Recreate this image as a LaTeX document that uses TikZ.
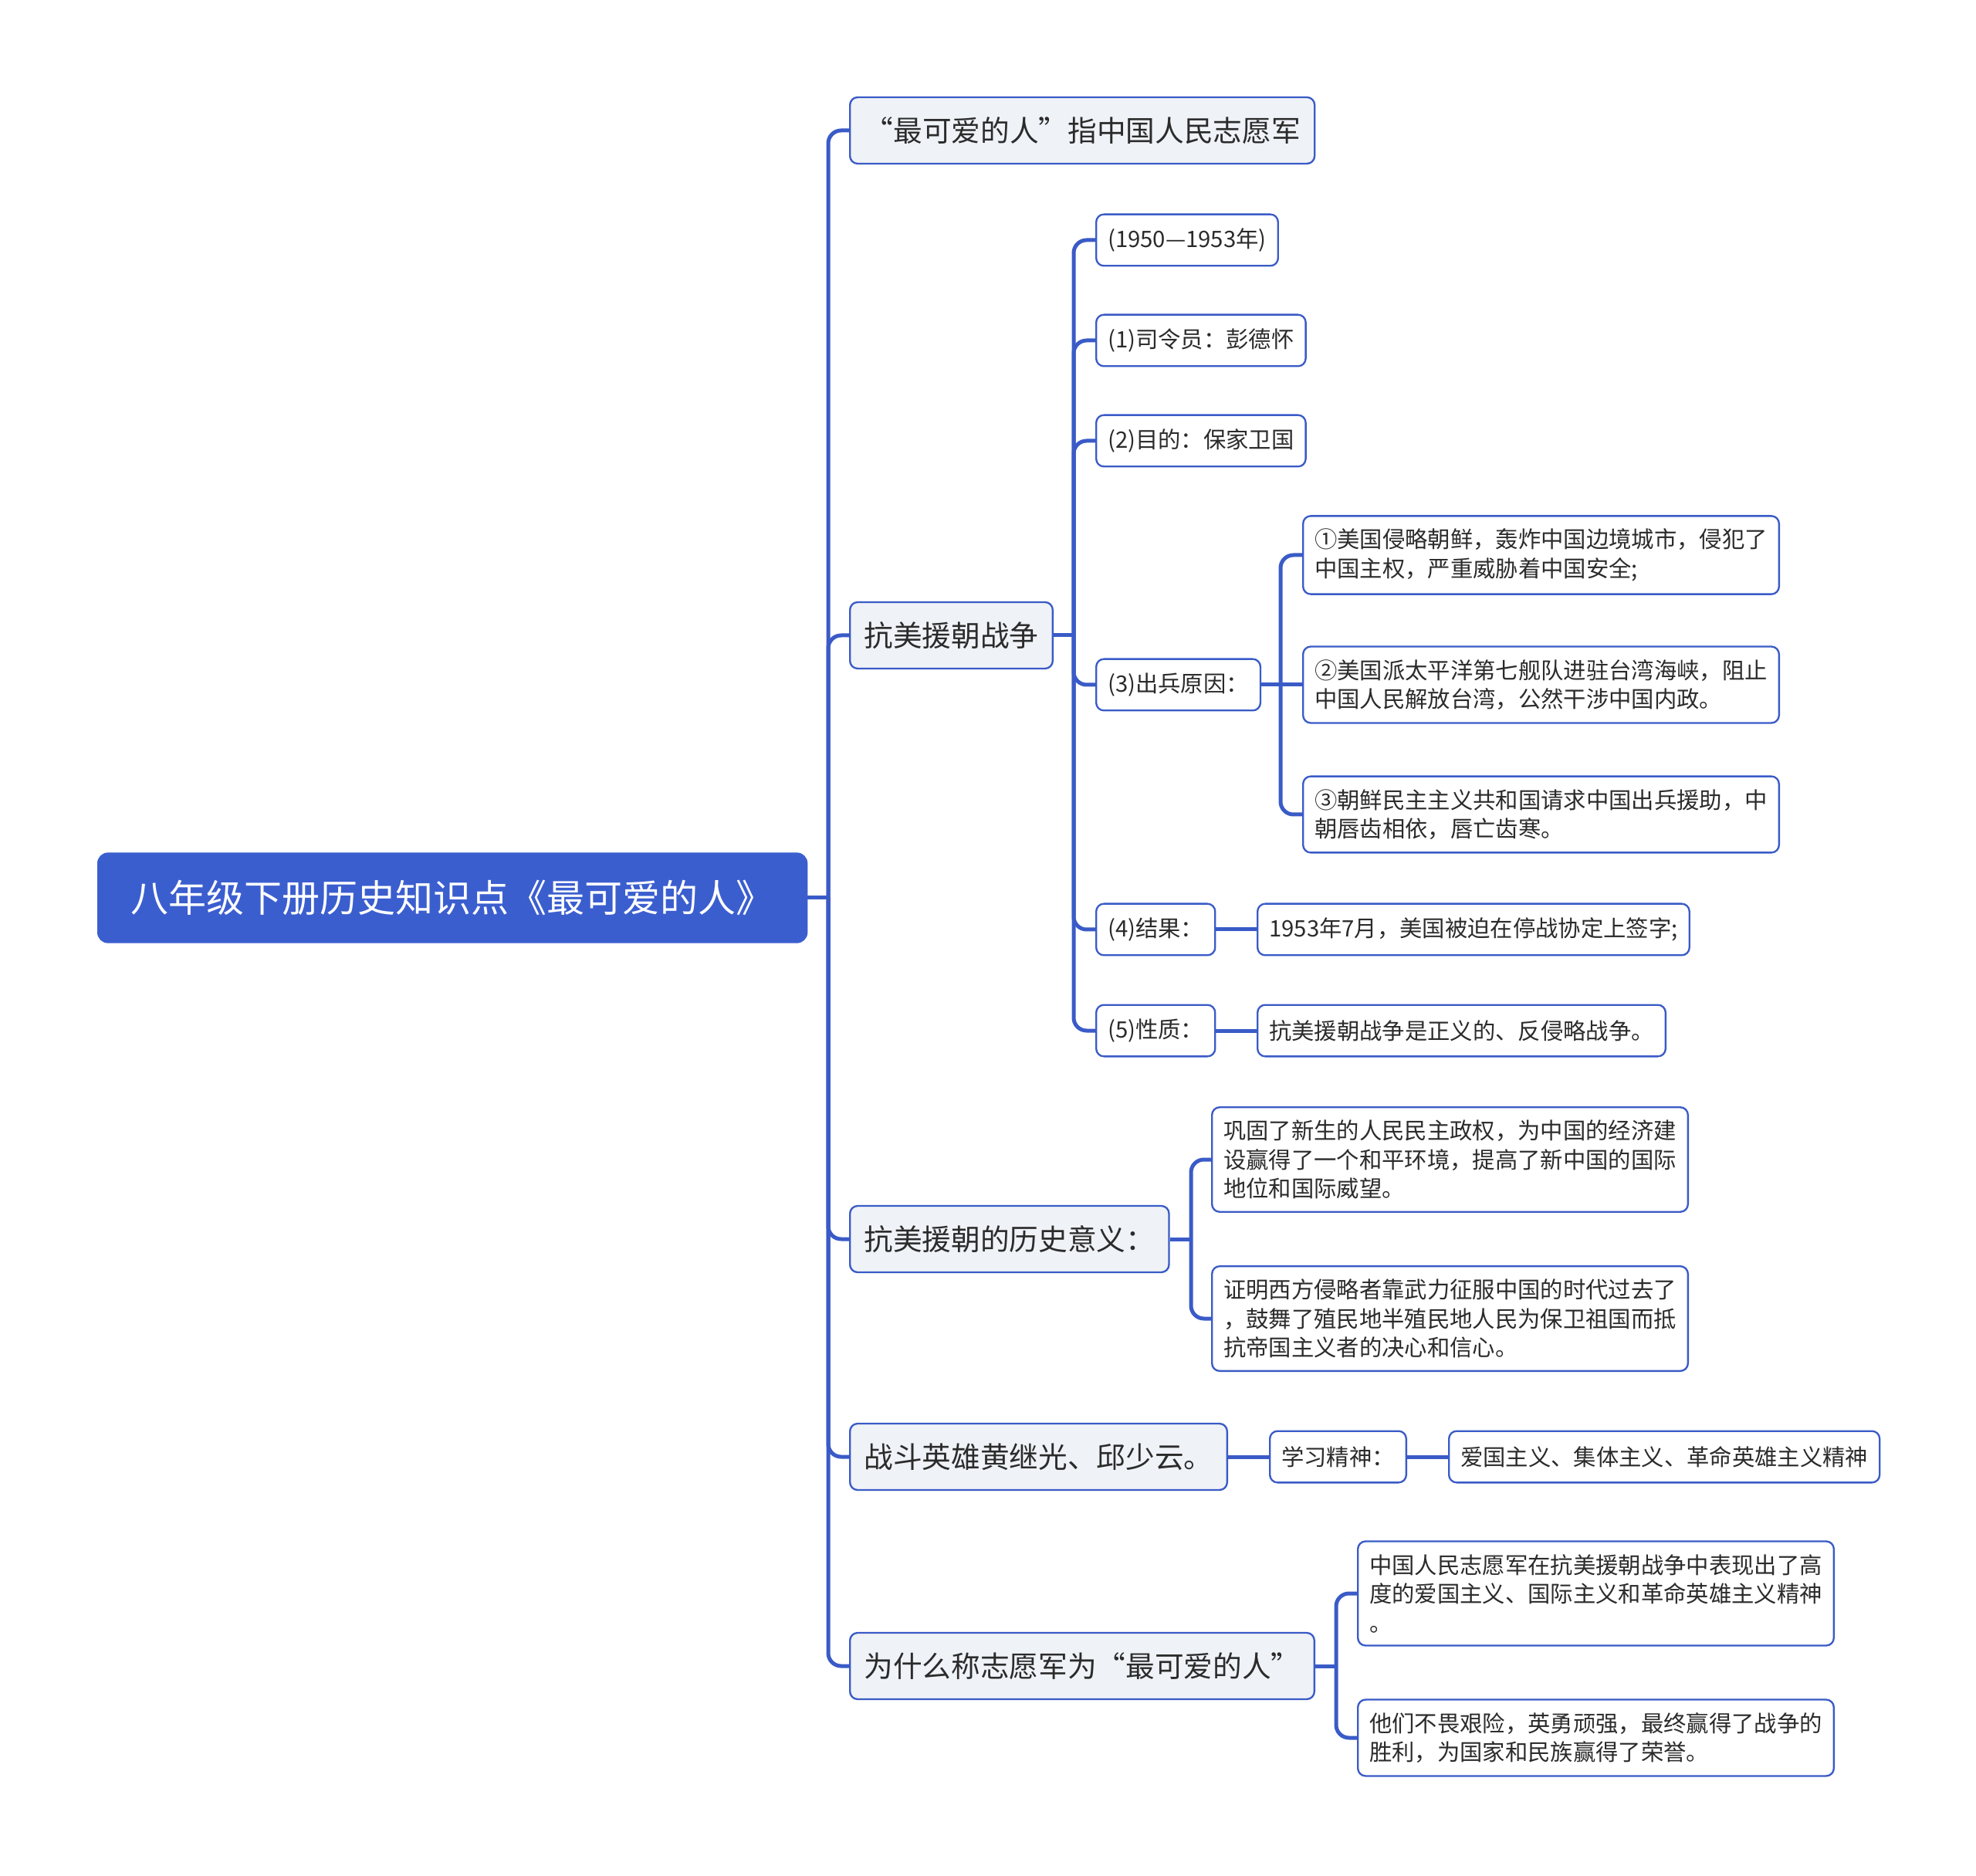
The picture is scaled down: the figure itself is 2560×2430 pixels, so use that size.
\documentclass[tikz,border=0pt]{standalone}
\usepackage{fontspec}
\setmainfont{Noto Sans CJK SC}
\usetikzlibrary{calc}
\definecolor{linec}{HTML}{3A5BC7}
\definecolor{rootc}{HTML}{3B5ECF}
\definecolor{boxc}{HTML}{EFF2F7}
\definecolor{txtc}{HTML}{2B2B2B}

\begin{document}
\begin{tikzpicture}[
    x=0.3pt, y=-0.3pt,
    link/.style={draw=linec, line width=1.5pt},
    elbow/.style={link, rounded corners=5pt},
    rootbox/.style={draw=rootc, fill=rootc, rounded corners=4pt, text=white,
      font=\fontsize{14.7}{17}\selectfont, minimum width=275.7pt,
      minimum height=34.8pt, anchor=west},
    topic/.style={draw=linec, fill=boxc, line width=0.7pt, rounded corners=3pt,
      text=txtc, font=\fontsize{11.3}{13.5}\selectfont, minimum height=25.8pt,
      inner xsep=5.5pt, anchor=west},
    leaf/.style={draw=linec, fill=white, line width=0.7pt, rounded corners=3pt,
      text=txtc, font=\fontsize{8.8}{11.25}\selectfont, minimum height=20pt,
      inner xsep=4.5pt, inner ysep=5pt, align=left, anchor=west},
  ]
  \fill[white] (0,0) rectangle (2560,2430);
  \useasboundingbox (0,0) rectangle (2560,2430);

  % Root
  \node[rootbox] (root) at (126,1163) {八年级下册历史知识点《最可爱的人》};

  % Main topics
  \node[topic, minimum width=180.6pt] (who) at (1100,169) {“最可爱的人”指中国人民志愿军};
  \node[topic] (war) at (1100,823) {抗美援朝战争};
  \node[topic] (mean) at (1100,1605) {抗美援朝的历史意义：};
  \node[topic] (hero) at (1100,1887) {战斗英雄黄继光、邱少云。};
  \node[topic] (why) at (1100,2158) {为什么称志愿军为“最可爱的人”};

  % War details
  \node[leaf] (w0) at (1419,311) {(1950—1953年)};
  \node[leaf] (w1) at (1419,441) {(1)司令员：彭德怀};
  \node[leaf] (w2) at (1419,571) {(2)目的：保家卫国};
  \node[leaf] (w3) at (1419,887) {(3)出兵原因：};
  \node[leaf] (w4) at (1419,1204) {(4)结果：};
  \node[leaf] (w5) at (1419,1335) {(5)性质：};

  % Reasons
  \node[leaf] (r1) at (1687,719) {①美国侵略朝鲜，轰炸中国边境城市，侵犯了\\中国主权，严重威胁着中国安全;};
  \node[leaf] (r2) at (1687,887) {②美国派太平洋第七舰队进驻台湾海峡，阻止\\中国人民解放台湾，公然干涉中国内政。};
  \node[leaf] (r3) at (1687,1055) {③朝鲜民主主义共和国请求中国出兵援助，中\\朝唇齿相依，唇亡齿寒。};
  \node[leaf] (res) at (1628,1204) {1953年7月，美国被迫在停战协定上签字;};
  \node[leaf] (nat) at (1628,1335) {抗美援朝战争是正义的、反侵略战争。};

  % Significance
  \node[leaf] (m1) at (1569,1502) {巩固了新生的人民民主政权，为中国的经济建\\设赢得了一个和平环境，提高了新中国的国际\\地位和国际威望。};
  \node[leaf] (m2) at (1569,1708) {证明西方侵略者靠武力征服中国的时代过去了\\，鼓舞了殖民地半殖民地人民为保卫祖国而抵\\抗帝国主义者的决心和信心。};

  % Heroes
  \node[leaf] (study) at (1644,1887) {学习精神：};
  \node[leaf] (spirit) at (1876,1887) {爱国主义、集体主义、革命英雄主义精神};

  % Why
  \node[leaf] (y1) at (1758,2064) {中国人民志愿军在抗美援朝战争中表现出了高\\度的爱国主义、国际主义和革命英雄主义精神\\。};
  \node[leaf] (y2) at (1758,2251) {他们不畏艰险，英勇顽强，最终赢得了战争的\\胜利，为国家和民族赢得了荣誉。};

  % Connectors
  \coordinate (jroot) at (1073,1163);
  \draw[link] (root.east) -- (jroot);
  \foreach \c in {who,war,mean,hero,why} \draw[elbow] (jroot) |- (\c.west);

  \coordinate (jwar) at (1391,823);
  \draw[link] (war.east) -- (jwar);
  \foreach \c in {w0,w1,w2,w3,w4,w5} \draw[elbow] (jwar) |- (\c.west);

  \coordinate (jrsn) at (1659,887);
  \draw[link] (w3.east) -- (r2.west);
  \foreach \c in {r1,r3} \draw[elbow] (jrsn) |- (\c.west);

  \draw[link] (w4.east) -- (res.west);
  \draw[link] (w5.east) -- (nat.west);

  \coordinate (jmean) at (1543,1605);
  \draw[link] (mean.east) -- (jmean);
  \foreach \c in {m1,m2} \draw[elbow] (jmean) |- (\c.west);

  \draw[link] (hero.east) -- (study.west);
  \draw[link] (study.east) -- (spirit.west);

  \coordinate (jwhy) at (1731,2158);
  \draw[link] (why.east) -- (jwhy);
  \foreach \c in {y1,y2} \draw[elbow] (jwhy) |- (\c.west);
\end{tikzpicture}
\end{document}
